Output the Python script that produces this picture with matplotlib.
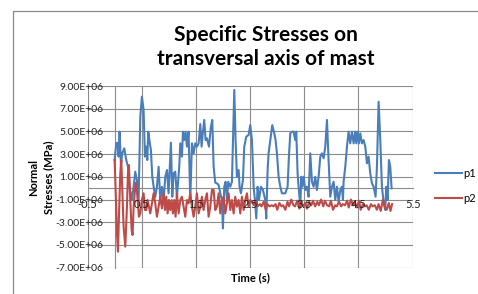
import numpy as np
import matplotlib
matplotlib.use('Agg')
import matplotlib.pyplot as plt
from matplotlib.ticker import FuncFormatter, NullFormatter
from matplotlib.patches import Rectangle

# ---------------------------------------------------------------------------
# Data (time in s, stress in units of 1e6)
# ---------------------------------------------------------------------------
t_p1 = [0.000, 0.031, 0.055, 0.074, 0.092, 0.117, 0.141, 0.178, 0.215, 0.246,
        0.277, 0.320, 0.351, 0.381, 0.412, 0.443, 0.474, 0.504, 0.535, 0.560,
        0.584, 0.603, 0.621, 0.646, 0.670, 0.695, 0.720, 0.750, 0.781, 0.812,
        0.843, 0.873, 0.904, 0.935, 0.966, 0.996, 1.039, 1.064, 1.089, 1.119,
        1.150, 1.193, 1.212, 1.242, 1.261, 1.285, 1.310, 1.335, 1.365, 1.396,
        1.427, 1.458, 1.488, 1.519, 1.550, 1.581, 1.605, 1.630, 1.654, 1.679,
        1.704, 1.741, 1.777, 1.802, 1.827, 1.857, 1.888, 1.919, 1.950, 1.980,
        1.999, 2.023, 2.048, 2.073, 2.097, 2.134, 2.165, 2.208, 2.232, 2.257,
        2.288, 2.306, 2.331, 2.368, 2.392, 2.429, 2.472, 2.503, 2.534, 2.565,
        2.589, 2.614, 2.638, 2.663, 2.700, 2.737, 2.780, 2.798, 2.823, 2.841,
        2.872, 2.909, 2.946, 2.970, 2.995, 3.026, 3.057, 3.087, 3.118, 3.149,
        3.192, 3.216, 3.241, 3.272, 3.303, 3.333, 3.352, 3.376, 3.395, 3.426,
        3.444, 3.463, 3.487, 3.518, 3.549, 3.579, 3.610, 3.641, 3.672, 3.702,
        3.733, 3.764, 3.795, 3.825, 3.856, 3.887, 3.918, 3.948, 3.979, 4.010,
        4.041, 4.071, 4.102, 4.133, 4.164, 4.194, 4.213, 4.225, 4.256, 4.287,
        4.317, 4.348, 4.379, 4.410, 4.440, 4.459, 4.483, 4.508, 4.533, 4.563,
        4.594, 4.625, 4.656, 4.686, 4.717, 4.748, 4.779, 4.815, 4.840, 4.871,
        4.902, 4.932, 4.963, 4.994, 5.012, 5.037, 5.062, 5.086, 5.111]
p1 = [2.48, 3.95, 4.00, 2.78, 4.98, 2.04, 3.07, 3.51, 2.48, 1.89,
      0.13, -1.04, 0.13, 1.45, 0.72, -1.04, 6.30, 8.06, 6.89, 2.78,
      3.66, 2.48, 4.98, 4.10, 3.36, 1.01, 0.13, -0.75, 0.13, 1.89,
      -1.04, 0.13, -1.04, 1.01, 1.60, -0.45, 4.01, -0.75, 1.31, 1.45,
      -0.75, 1.89, 3.95, 2.78, 4.98, 4.24, 4.98, 3.66, 4.98, -1.04,
      3.95, 3.07, 3.95, 3.66, 3.95, 5.65, 3.66, 4.98, 6.01, 4.24,
      4.39, 3.66, 5.42, 6.01, 1.89, 0.49, 0.43, 0.28, -0.45, -1.04,
      -3.54, 0.13, 0.57, -1.04, 0.57, 0.13, 0.57, 8.65, 4.24, 1.01,
      1.60, 0.13, -0.45, 0.72, 3.66, 4.54, 4.68, 5.56, 4.24, 0.13,
      -1.04, -2.66, 0.13, -1.04, 0.13, -0.16, -1.04, -2.66, 1.60, 3.07,
      4.24, 5.56, 4.83, 4.24, 3.07, 1.01, 0.13, -0.45, -0.45, -0.45,
      0.13, 2.78, 4.83, 4.98, 4.98, 4.24, 4.98, 1.31, 0.13, -1.63,
      1.01, 0.13, 1.01, -0.16, 0.13, -0.75, 3.07, 0.57, 0.13, 1.01,
      -0.16, 1.01, 2.78, 3.07, 2.63, 3.66, 6.01, 2.48, -0.75, 0.13,
      0.57, -1.04, 0.13, -1.19, -0.16, 0.13, -1.04, 0.57, 1.89, 3.66,
      4.98, 3.95, 4.98, 3.95, 4.98, 3.95, 4.98, 3.95, 4.83, 3.95,
      4.24, 3.66, 2.19, 2.78, 1.31, 0.43, 0.13, -0.75, 1.89, 7.62,
      4.24, 0.13, -1.19, -1.92, 0.13, -1.04, 2.48, 1.89, -0.01]

t_p2 = [0.000, 0.025, 0.043, 0.062, 0.080, 0.105, 0.123, 0.141, 0.166, 0.197,
        0.228, 0.246, 0.264, 0.289, 0.314, 0.332, 0.351, 0.381, 0.400, 0.424,
        0.449, 0.474, 0.504, 0.535, 0.560, 0.584, 0.609, 0.634, 0.658, 0.689,
        0.720, 0.750, 0.781, 0.812, 0.843, 0.873, 0.904, 0.929, 0.953, 0.978,
        1.002, 1.027, 1.052, 1.076, 1.101, 1.125, 1.150, 1.181, 1.212, 1.242,
        1.273, 1.304, 1.335, 1.365, 1.396, 1.427, 1.458, 1.488, 1.519, 1.550,
        1.581, 1.611, 1.642, 1.673, 1.704, 1.734, 1.765, 1.796, 1.827, 1.857,
        1.888, 1.919, 1.950, 1.980, 2.011, 2.042, 2.073, 2.103, 2.134, 2.165,
        2.196, 2.226, 2.257, 2.288, 2.319, 2.349, 2.380, 2.411, 2.442, 2.472,
        2.503, 2.530, 2.570, 2.600, 2.640, 2.680, 2.710, 2.750, 2.790, 2.820,
        2.860, 2.900, 2.930, 2.970, 3.000, 3.040, 3.080, 3.110, 3.150, 3.190,
        3.220, 3.260, 3.300, 3.330, 3.370, 3.410, 3.440, 3.480, 3.520, 3.550,
        3.590, 3.630, 3.660, 3.700, 3.740, 3.770, 3.810, 3.850, 3.880, 3.920,
        3.960, 3.990, 4.030, 4.070, 4.100, 4.140, 4.180, 4.210, 4.250, 4.290,
        4.320, 4.360, 4.400, 4.430, 4.470, 4.510, 4.540, 4.580, 4.620, 4.650,
        4.690, 4.730, 4.760, 4.800, 4.840, 4.870, 4.910, 4.950, 4.980, 5.020,
        5.060, 5.090, 5.120]
p2 = [2.48, -1.04, -3.98, -5.59, -2.51, 1.31, 2.48, 0.13, -3.39, -5.15,
      -1.63, 1.31, 2.04, -1.04, -3.68, -4.12, -1.63, 0.13, 0.49, -1.04,
      -2.51, -2.22, -1.04, -0.45, -1.92, -1.92, -1.04, -1.63, -2.22, -1.33,
      -0.45, -1.33, -2.51, -1.63, -0.75, -1.78, -0.45, -1.92, -0.75, -2.22,
      -1.04, -1.92, -1.04, -2.22, -1.04, -2.51, -0.45, -2.22, -1.04, -0.75,
      -1.63, -2.51, -1.04, -1.33, -0.45, -1.63, -2.51, -1.63, -0.45, -2.22,
      -1.63, -0.75, -1.92, -1.04, -0.45, -2.51, -1.63, -0.16, -0.16, -1.92,
      -1.63, -0.45, -2.22, -1.04, -0.75, -2.22, -1.33, -0.45, -1.92, -1.04,
      -2.22, -0.75, -1.63, -1.04, -2.22, -0.75, -1.92, -1.04, -0.45, -1.63,
      -1.04, -1.20, -1.50, -1.10, -1.60, -1.40, -1.60, -1.20, -1.90, -1.40,
      -1.60, -1.50, -1.60, -1.40, -1.90, -1.30, -1.60, -1.50, -1.90, -1.20,
      -1.60, -1.00, -1.50, -1.60, -1.10, -1.80, -1.20, -1.60, -1.30, -1.80,
      -1.20, -1.50, -1.10, -1.60, -1.20, -1.50, -1.00, -1.60, -1.10, -1.50,
      -1.60, -1.10, -1.90, -1.50, -1.60, -1.20, -1.60, -1.40, -1.50, -1.10,
      -1.70, -1.00, -1.50, -1.20, -1.70, -1.10, -1.90, -1.40, -1.60, -1.50,
      -1.90, -1.40, -1.60, -1.50, -1.90, -1.40, -2.00, -1.00, -1.60, -1.90,
      -1.30, -2.00, -1.40]

x_ticks = [-0.5, 0.5, 1.5, 2.5, 3.5, 4.5, 5.5]
y_ticks = [-7e6, -5e6, -3e6, -1e6, 1e6, 3e6, 5e6, 7e6, 9e6]

BLUE = '#4a7ebb'
RED = '#be4b48'
GRID = '#8c8c8c'

plt.rcParams['font.family'] = ['Lato', 'DejaVu Sans']

fig = plt.figure(figsize=(4.78, 2.94), dpi=100)
W, H = 478.0, 294.0

# chart area border (cut off on the right/bottom like the reference)
fig.add_artist(Rectangle((12.5 / W, -0.1), 1.0, 1.1 - 10.5 / H,
                         transform=fig.transFigure, fill=False,
                         edgecolor='#8a8a8a', linewidth=0.9))

ax = fig.add_axes([87.5 / W, 1 - 267.7 / H, (412.7 - 87.5) / W,
                   (267.7 - 86) / H])
ax.set_xlim(-0.5, 5.5)
ax.set_ylim(-7e6, 9e6)

ax.plot(t_p1, np.array(p1) * 1e6, color=BLUE, linewidth=1.5, label='p1',
        zorder=3)
ax.plot(t_p2, np.array(p2) * 1e6, color=RED, linewidth=1.5, label='p2',
        zorder=3)

ax.set_xticks(x_ticks)
ax.set_yticks(y_ticks)
ax.xaxis.set_major_formatter(NullFormatter())
ax.yaxis.set_major_formatter(FuncFormatter(lambda v, p: '%.2E' % v))
ax.grid(True, color=GRID, linewidth=0.8)
ax.set_axisbelow(True)

# x labels sit on the axis at y=0 and are drawn over the series (as in Excel)
for v in x_ticks:
    ax.annotate(f'{v:.1f}', (v, 0), xytext=(0, -16), textcoords='offset pixels',
                ha='center', va='center', fontsize=8, color='#222222',
                zorder=5, annotation_clip=False)

for side in ['top', 'right']:
    ax.spines[side].set_visible(False)
ax.spines['left'].set_position(('data', 0))
ax.spines['bottom'].set_position(('data', 0))
for side in ['left', 'bottom']:
    ax.spines[side].set_color(GRID)
    ax.spines[side].set_linewidth(0.8)

ax.tick_params(axis='both', length=0, labelsize=7.5, colors='#222222')
ax.tick_params(axis='y', pad=8)

fig.text(250 / W, 1 - 277.5 / H, 'Time (s)', ha='center', va='center',
         fontsize=8, fontweight='bold')
fig.text(41 / W, 1 - 177 / H, 'Normal\nStresses (MPa)', ha='center',
         va='center', rotation=90, fontsize=8, fontweight='bold',
         multialignment='center', linespacing=1.45)

fig.text(266 / W, 1 - 47 / H, 'Specific Stresses on\ntransversal axis of mast',
         ha='center', va='center', fontsize=15, fontweight='bold',
         linespacing=1.25)

fig.legend(loc='center left', bbox_to_anchor=(435 / W, 1 - 186 / H),
           frameon=False, fontsize=8, handlelength=2.4, handletextpad=0.15,
           labelspacing=1.2, borderaxespad=0, borderpad=0)

fig.savefig('out.png', dpi=100)
